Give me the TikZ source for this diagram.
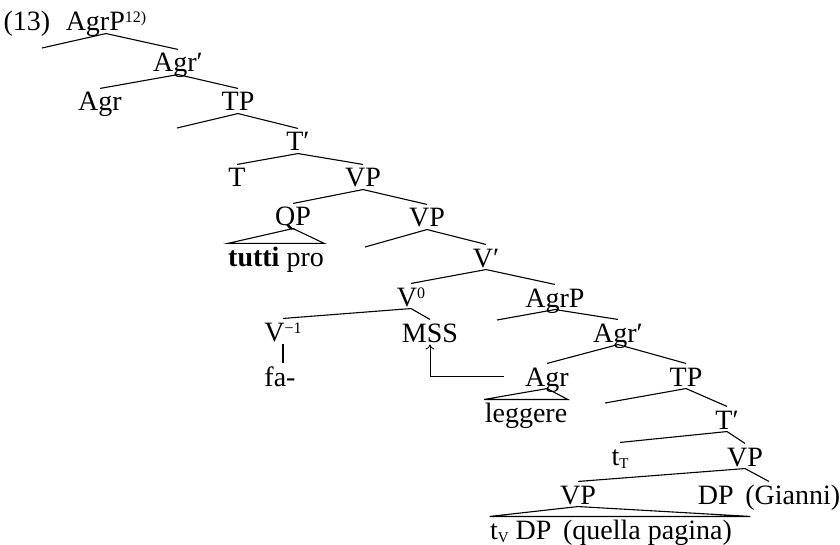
\documentclass[tikz,border=0pt]{standalone}
\usepackage{fontspec}
\setmainfont{Liberation Serif}
\usetikzlibrary{calc,arrows.meta}

% small raised and lowered indices
\newcommand{\up}[1]{\raisebox{8pt}{\fontsize{16}{16}\selectfont #1}}
\newcommand{\dn}[1]{\raisebox{-3pt}{\fontsize{15}{15}\selectfont #1}}

\begin{document}
\begin{tikzpicture}[x=1pt,y=-1pt,
    cat/.style={anchor=base,inner sep=0pt,text height=22pt,text depth=2pt},
    font=\fontsize{28}{30}\selectfont,
    line width=1.1pt]
  \useasboundingbox (0,0) rectangle (840,545);

  \node[cat] (ex) at (27,31) {(13)};
  \node[cat] (agrpA) at (106,31) {AgrP\up{12)}};
  \node[cat] (agrbarA) at (178,72) {Agr′};
  \node[cat] (agrA) at (100,111) {Agr};
  \node[cat] (tpA) at (238,111) {TP};
  \node[cat] (tbarA) at (298,151) {T′};
  \node[cat] (tA) at (237,187) {T};
  \node[cat] (vpA) at (363,187) {VP};
  \node[cat] (qp) at (293,226) {QP};
  \node[cat] (tutti) at (276,266) {\textbf{tutti} pro};
  \node[cat] (vpB) at (427,227) {VP};
  \node[cat] (vbar) at (486,267) {V′};
  \node[cat] (vzero) at (411,306) {V\up{0}};
  \node[cat] (vminus) at (283,341) {V\up{−1}};
  \node[cat] (fa) at (280,386) {fa-};
  \node[cat] (mss) at (430,342) {MSS};
  \node[cat] (agrpB) at (555,307) {AgrP};
  \node[cat] (agrbarB) at (618,342) {Agr′};
  \node[cat] (agrB) at (547,386) {Agr};
  \node[cat] (leggere) at (526,422) {leggere};
  \node[cat] (tpB) at (686,386) {TP};
  \node[cat] (tbarB) at (727,429) {T′};
  \node[cat] (ttr) at (620,465) {t\dn{T}};
  \node[cat] (vpC) at (745,466) {VP};
  \node[cat] (vpD) at (578,504) {VP};
  \node[cat] (dp) at (769,504) {DP\, (Gianni)};
  \node[cat] (tv) at (611,539) {t\dn{V} DP\, (quella pagina)};

  % empty specifiers
  \coordinate (specA) at (42,48);
  \coordinate (specB) at (177,128);
  \coordinate (specC) at (365,247);
  \coordinate (specD) at (497,320);
  \coordinate (specE) at (605,403);

  % branches
  \foreach \a/\b in {agrpA/agrbarA, agrbarA/agrA, agrbarA/tpA, tpA/tbarA,
      tbarA/tA, tbarA/vpA, vpA/qp, vpA/vpB, vpB/vbar, vbar/vzero,
      vbar/agrpB, vzero/vminus, vzero/mss, agrpB/agrbarB, agrbarB/agrB,
      agrbarB/tpB, tpB/tbarB, tbarB/ttr, tbarB/vpC, vpC/vpD, vpC/dp}
    \draw (\a.south) -- (\b.north);
  \foreach \a/\b in {agrpA/specA, tpA/specB, vpB/specC, agrpB/specD, tpB/specE}
    \draw (\a.south) -- (\b);
  \draw (vminus.south) -- (vminus.south |- fa.north);

  % triangles
  \draw (qp.south) -- (tutti.north west) -- (tutti.north east) -- cycle;
  \draw (agrB.south) -- (leggere.north west) -- (leggere.north east) -- cycle;
  \draw (vpD.south) -- (tv.north west) -- ([xshift=18pt]tv.north east) -- cycle;

  % movement of Agr
  \draw[-{To[length=5pt,width=9pt]},line width=0.9pt] ([xshift=-21pt]agrB.west) -| (mss.south);
\end{tikzpicture}
\end{document}
